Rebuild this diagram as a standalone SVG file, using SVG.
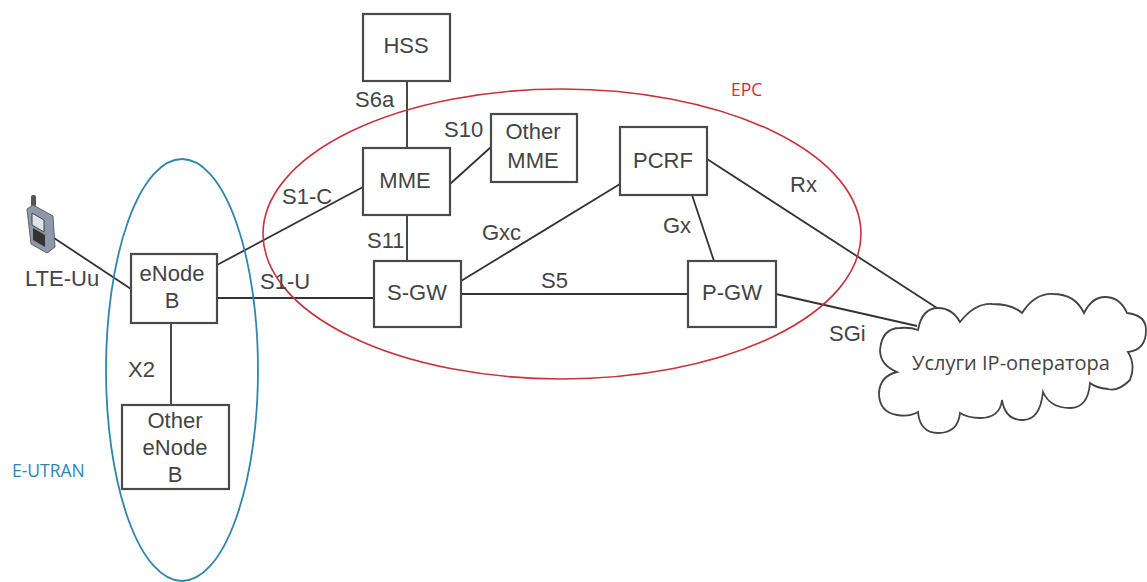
<svg xmlns="http://www.w3.org/2000/svg" width="1147" height="582" viewBox="0 0 1147 582">
<style>
.box{fill:#fff;stroke:#4a4a4a;stroke-width:2.2}
.t{font-family:"Liberation Sans",Arial,sans-serif;font-size:22px;fill:#444;text-anchor:middle}
.l{font-family:"Liberation Sans",Arial,sans-serif;font-size:22px;fill:#444}
.c{stroke:#333;stroke-width:1.8;fill:none}
.o{font-family:"Open Sans","Noto Sans",sans-serif;font-size:17.5px}
</style>
<rect width="1147" height="582" fill="#fff"/>
<g id="connectors">
<line class="c" x1="407" y1="81" x2="407" y2="148"/>
<line class="c" x1="450" y1="184" x2="491" y2="147"/>
<line class="c" x1="407" y1="215" x2="407" y2="261"/>
<line class="c" x1="217" y1="265" x2="363" y2="187"/>
<line class="c" x1="217" y1="298" x2="374" y2="298"/>
<line class="c" x1="54" y1="238" x2="131" y2="289"/>
<line class="c" x1="171" y1="323" x2="171" y2="405"/>
<line class="c" x1="461" y1="281" x2="620" y2="184"/>
<line class="c" x1="461" y1="294" x2="688" y2="294"/>
<line class="c" x1="692" y1="195" x2="714" y2="261"/>
<line class="c" x1="707" y1="159" x2="937" y2="308"/>
<line class="c" x1="776" y1="294" x2="917" y2="326"/>
</g>
<ellipse id="epc-boundary" cx="562" cy="234" rx="299" ry="145" fill="none" stroke="#c8323c" stroke-width="1.6"/>
<ellipse id="eutran-boundary" cx="182" cy="370" rx="76" ry="211" fill="none" stroke="#2f86ad" stroke-width="1.8"/>
<g id="hss"><rect class="box" x="363" y="14" width="87" height="67"/><text class="t" x="406" y="53">HSS</text></g>
<g id="mme"><rect class="box" x="363" y="148" width="87" height="67"/><text class="t" x="405" y="188">MME</text></g>
<g id="other-mme"><rect class="box" x="491" y="114" width="86" height="68"/><text class="t" x="533" y="139">Other</text><text class="t" x="533" y="168">MME</text></g>
<g id="pcrf"><rect class="box" x="620" y="127" width="87" height="68"/><text class="t" x="663" y="168">PCRF</text></g>
<g id="sgw"><rect class="box" x="374" y="261" width="87" height="66"/><text class="t" x="417" y="300">S-GW</text></g>
<g id="pgw"><rect class="box" x="688" y="261" width="88" height="66"/><text class="t" x="732" y="300">P-GW</text></g>
<g id="enodeb"><rect class="box" x="131" y="254" width="86" height="69"/><text class="t" x="172" y="281">eNode</text><text class="t" x="172" y="308">B</text></g>
<g id="other-enodeb"><rect class="box" x="122" y="405" width="107" height="84"/><text class="t" x="175" y="428">Other</text><text class="t" x="175" y="455">eNode</text><text class="t" x="175" y="482">B</text></g>
<g id="cloud">
<path d="M918 330Q922 308 938 308Q952 308 960 322Q975 303 992 304Q1012 304 1022 313Q1035 293 1053 294Q1075 294 1084 313Q1092 297 1105 297Q1120 297 1127 313Q1146 315 1146 330Q1146 350 1128 352Q1136 365 1130 380Q1118 392 1108 389Q1096 388 1090 383Q1088 408 1070 408Q1050 408 1043 392Q1040 420 1023 420Q1005 420 1002 400Q1000 418 980 418Q968 418 960 413Q958 433 938 433Q920 433 918 412Q910 417 897 415Q879 412 879 393Q880 376 897 372Q880 365 880 350Q882 328 900 328Q910 327 918 330Z" fill="#fff" stroke="#444" stroke-width="1.8"/>
<text class="t" x="1011" y="370" style="font-family:'Open Sans','Noto Sans',sans-serif;font-size:20px">Услуги IP-оператора</text>
</g>
<g id="ue">
<rect x="31" y="195" width="5" height="12" rx="2" fill="#555"/>
<path d="M27 209L33 205L53 216L55 247L47 253L31 244Z" fill="#8f98a6" stroke="#5a6270"/>
<path d="M32 213L44 220L44 232L32 225Z" fill="#dde3e8" stroke="#444"/>
<path d="M33 228L45 235L45 247L33 240Z" fill="#333"/>
</g>
<g id="labels">
<text class="l" x="355" y="107">S6a</text>
<text class="l" x="444" y="137">S10</text>
<text class="l" x="282" y="204">S1-C</text>
<text class="l" x="367" y="248">S11</text>
<text class="l" x="260" y="289">S1-U</text>
<text class="l" x="25" y="286">LTE-Uu</text>
<text class="l" x="128" y="377">X2</text>
<text class="l" x="482" y="240">Gxc</text>
<text class="l" x="663" y="233">Gx</text>
<text class="l" x="541" y="288">S5</text>
<text class="l" x="790" y="192">Rx</text>
<text class="l" x="829" y="341">SGi</text>
<text class="o" x="731" y="96" fill="#c8323c">EPC</text>
<text class="o" x="12" y="477" fill="#2f86ad">E-UTRAN</text>
</g>
</svg>
